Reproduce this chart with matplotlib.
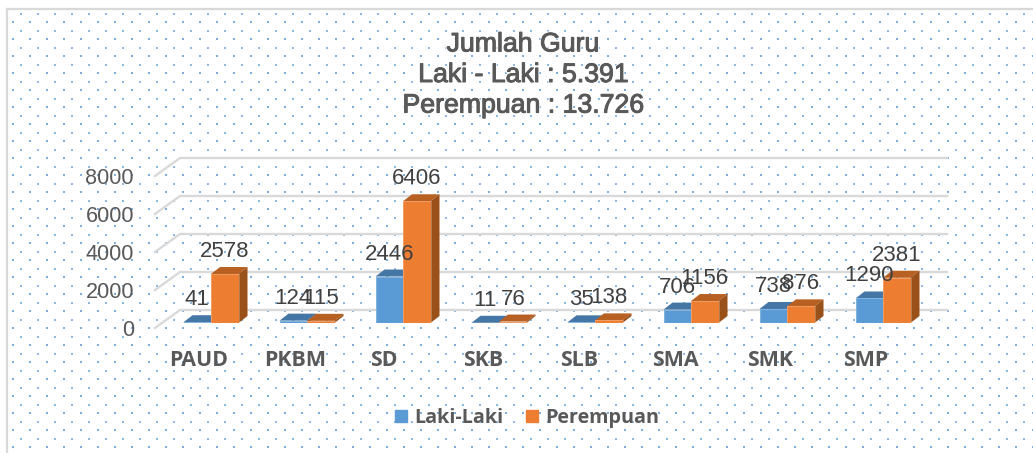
import matplotlib
matplotlib.use("Agg")
import matplotlib.pyplot as plt
import matplotlib.patheffects as pe
import numpy as np
from matplotlib.patches import Patch

kategori = ["PAUD", "PKBM", "SD", "SKB", "SLB", "SMA", "SMK", "SMP"]
laki = [41, 124, 2446, 11, 35, 706, 738, 1290]
perempuan = [2578, 115, 6406, 76, 138, 1156, 876, 2381]
ticks_y = [0, 2000, 4000, 6000, 8000]
judul = "Jumlah Guru\nLaki - Laki : 5.391\nPerempuan : 13.726"

ANCHO, ALTO = 1033, 453
PX_X = 96.0  # pixeles por categoria
PX_Y = 0.019  # pixeles por unidad de valor
X0, Y0 = 211.0, 323.0  # centro del grupo PAUD y linea base

# corrimiento de la etiqueta de cada categoria, en pixeles
corrimiento = [-12, -12, -19, -16, -16, -16, -17, -17]

AZUL = ("#5B9BD5", "#4577A6", "#3E6E99")
NARANJA = ("#ED7D31", "#B85F22", "#9A5019")
GRIS = "#D9D9D9"
TEXTO = "#595959"


def dx(px):
    return px / PX_X


def dy(px):
    return px / PX_Y


def barra(ax, izq, ancho, valor, colores, zorder):
    fondo_x, fondo_y = dx(9), dy(7)
    der = izq + ancho
    ax.fill([izq, der, der, izq], [0, 0, valor, valor], color=colores[0], lw=0, zorder=zorder + 0.2)
    ax.plot([izq, izq, der, der], [0, valor, valor, 0], color="white", lw=0.5, alpha=0.35, zorder=zorder + 0.3)
    ax.plot([izq, der], [0, 0], color="white", lw=0.8, alpha=0.4, zorder=zorder + 0.3)
    ax.fill(
        [izq, der, der + fondo_x, izq + fondo_x],
        [valor, valor, valor + fondo_y, valor + fondo_y],
        color=colores[1], lw=0, zorder=zorder,
    )
    ax.fill(
        [der, der + fondo_x, der + fondo_x, der],
        [0, fondo_y, valor + fondo_y, valor],
        color=colores[2], lw=0, zorder=zorder,
    )


fig = plt.figure(figsize=(ANCHO / 100, ALTO / 100), dpi=100, facecolor="white")

# fondo con el patron de puntos y el marco, en pixeles
fondo = fig.add_axes([0, 0, 1, 1])
fondo.set_xlim(0, ANCHO)
fondo.set_ylim(ALTO, 0)
fondo.axis("off")
fondo.plot([7, 7], [ALTO, 9], color=GRIS, lw=1.6)
fondo.plot([7, ANCHO], [9, 9], color=GRIS, lw=1.6)
gx, gy = np.meshgrid(np.arange(12.5, ANCHO, 17), np.arange(22, ALTO, 17))
fondo.scatter(gx.ravel(), gy.ravel(), s=2.6, marker="s", color="#5B9BD5", lw=0, alpha=0.8)
gx, gy = np.meshgrid(np.arange(21, ANCHO, 17), np.arange(13.5, ALTO, 17))
fondo.scatter(gx.ravel(), gy.ravel(), s=1.0, marker="s", color="#5B9BD5", lw=0, alpha=0.7)

# grafica, con escala de valores
ax = fig.add_axes([0, 0, 1, 1])
ax.patch.set_alpha(0)
ax.set_xlim(-X0 / PX_X, (ANCHO - X0) / PX_X)
ax.set_ylim(-(ALTO - Y0) / PX_Y, Y0 / PX_Y)
ax.axis("off")

x_izq = dx(155 - X0)
x_pared = dx(180 - X0)
x_der = dx(947 - X0)
for t in ticks_y:
    ax.plot([x_izq, x_pared, x_der], [t - dy(5), t + dy(13), t + dy(13)], color=GRIS, lw=1.7, zorder=1,
            solid_joinstyle="miter")
    ax.text(dx(134 - X0), t - dy(8), str(t), ha="right", va="center", fontsize=15.6, color=TEXTO,
            family="Liberation Sans", zorder=6)

ancho = dx(27.5)
for i, nombre in enumerate(kategori):
    barra(ax, i - ancho, ancho, laki[i], AZUL, 2)
    barra(ax, i, ancho, perempuan[i], NARANJA, 3)
    ax.text(i - ancho / 2, laki[i] + dy(22.5), str(laki[i]), ha="center", va="center", fontsize=16,
            color="#404040", family="Liberation Sans", zorder=7)
    ax.text(i + ancho / 2, perempuan[i] + dy(22.5), str(perempuan[i]), ha="center", va="center", fontsize=16,
            color="#404040", family="Liberation Sans", zorder=7)
    ax.text(i + dx(corrimiento[i]), -dy(37), nombre, ha="center", va="center", fontsize=15.4,
            fontweight="bold", color=TEXTO, family="Open Sans", zorder=6)

# el titulo lleva un halo blanco y el trazo algo mas grueso
ax.text(dx(523 - 211), dy(323 - 75), judul, ha="center", va="center", fontsize=19.2, color=TEXTO,
        family="Liberation Sans", linespacing=1.23, zorder=6,
        path_effects=[pe.withStroke(linewidth=2.4, foreground="white", alpha=0.7),
                      pe.withStroke(linewidth=0.7, foreground=TEXTO)])

leyenda = ax.legend(
    handles=[Patch(color=AZUL[0], label="Laki-Laki"), Patch(color=NARANJA[0], label="Perempuan")],
    loc="center", bbox_to_anchor=(527 / ANCHO, 1 - 418 / ALTO), frameon=False, ncol=2,
    handlelength=0.62, handleheight=0.62, handletextpad=0.35, columnspacing=1.15,
    prop={"family": "Open Sans", "weight": "bold", "size": 14.2}, labelcolor=TEXTO,
)

fig.savefig("out.png", dpi=100, facecolor="white")
